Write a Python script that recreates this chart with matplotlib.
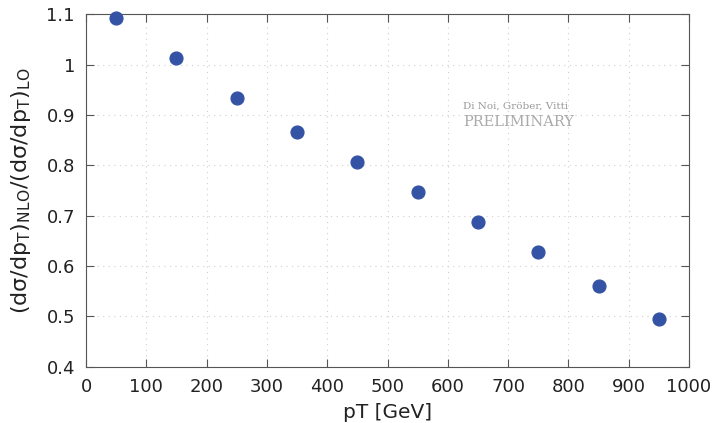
import matplotlib
matplotlib.use('Agg')
import matplotlib.pyplot as plt
from matplotlib.ticker import FuncFormatter

# data
pt = [50, 150, 250, 350, 450, 550, 650, 750, 850, 950]
ratio = [1.093, 1.013, 0.934, 0.867, 0.806, 0.747, 0.688, 0.627, 0.561, 0.495]
xticks = list(range(0, 1001, 100))
yticks = [0.4, 0.5, 0.6, 0.7, 0.8, 0.9, 1.0, 1.1]

fig = plt.figure(figsize=(7.18, 4.23), dpi=100)
ax = fig.add_axes([0.1198, 0.1331, 0.8398, 0.8331])

ax.plot(pt, ratio, 'o', color='#3553a5', markersize=9.2, zorder=3, clip_on=False)

ax.set_xlim(0, 1000)
ax.set_ylim(0.4, 1.1)
ax.set_xticks(xticks)
ax.set_yticks(yticks)
ax.yaxis.set_major_formatter(FuncFormatter(lambda v, p: '%g' % round(v, 2)))

ax.grid(True, linestyle=(0, (1, 4)), color='#d0d0d0', linewidth=0.8)
for s in ax.spines.values():
    s.set_color('#555555')
ax.tick_params(direction='in', top=True, right=True, length=6, color='#555555',
               labelsize=13, pad=8, labelcolor='#222222')

ax.set_xlabel('pT [GeV]', fontsize=14.5, labelpad=5, color='#222222')
ax.set_ylabel(r'(dσ/dp$_\mathregular{T}$)$_\mathregular{NLO}$/(dσ/dp$_\mathregular{T}$)$_\mathregular{LO}$',
              fontsize=16, labelpad=10, color='#222222')

# watermark
ax.text(625, 0.918, 'Di Noi, Gröber, Vitti', family='DejaVu Serif', fontsize=7.5,
        color='#999999', ha='left', va='center')
ax.text(625, 0.886, 'PRELIMINARY', family='DejaVu Serif', fontsize=10.5,
        color='#aaaaaa', ha='left', va='center')

fig.savefig('out.png', dpi=100)
